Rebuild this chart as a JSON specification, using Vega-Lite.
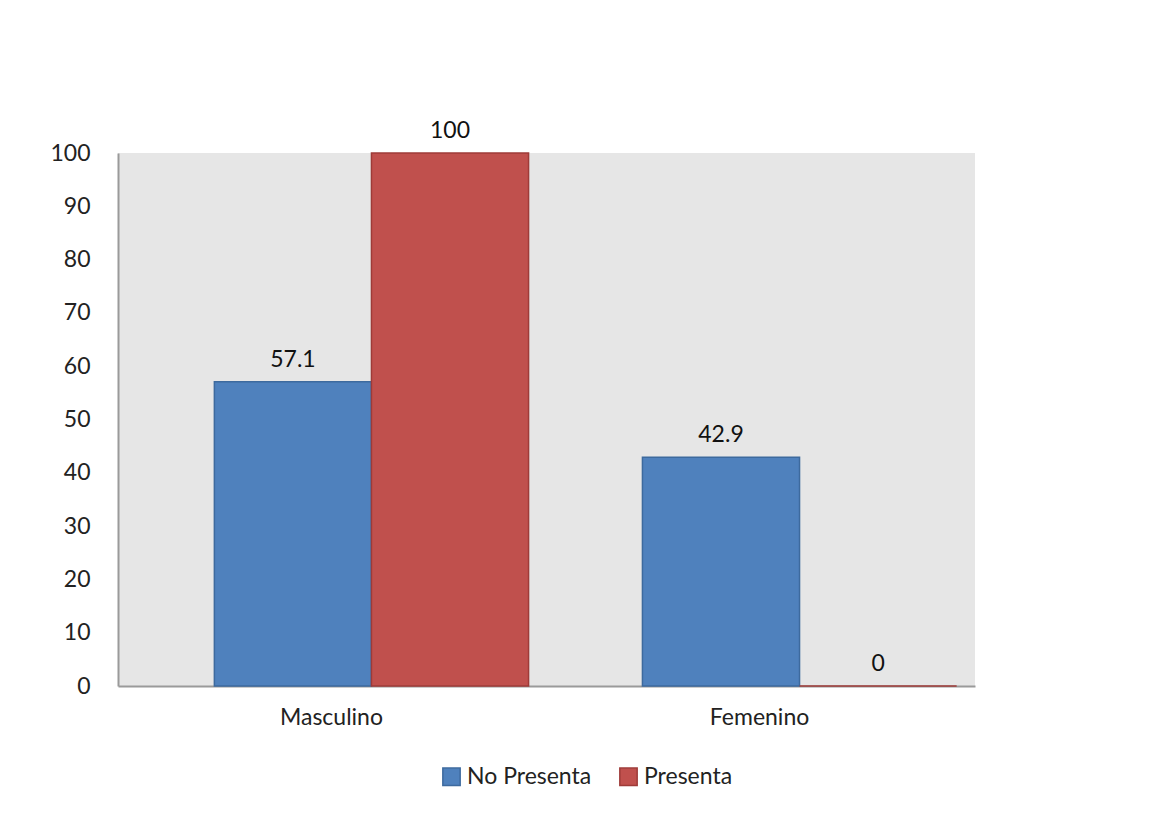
{
  "$schema": "https://vega.github.io/schema/vega-lite/v6.json",
  "width": 857,
  "height": 533,
  "autosize": "none",
  "padding": {"left": 118, "top": 153, "right": 178, "bottom": 128},
  "background": "white",
  "data": {
    "values": [
      {"sexo": "Masculino", "grupo": "No Presenta", "valor": 57.1},
      {"sexo": "Masculino", "grupo": "Presenta", "valor": 100},
      {"sexo": "Femenino", "grupo": "No Presenta", "valor": 42.9},
      {"sexo": "Femenino", "grupo": "Presenta", "valor": 0}
    ]
  },
  "encoding": {
    "x": {
      "field": "sexo",
      "type": "nominal",
      "sort": ["Masculino", "Femenino"],
      "scale": {"paddingInner": 0.266, "paddingOuter": 0.134, "align": 0.84},
      "axis": {
        "title": null,
        "labelAngle": 0,
        "labelFont": "Lato",
        "labelFontSize": 23,
        "labelColor": "#222222",
        "labelPadding": 20,
        "labelOffset": -40,
        "ticks": false,
        "domainColor": "#9a9a9a",
        "domainWidth": 2
      }
    },
    "xOffset": {"field": "grupo", "type": "nominal", "sort": ["No Presenta", "Presenta"]},
    "y": {
      "field": "valor",
      "type": "quantitative",
      "scale": {"domain": [0, 100], "nice": false},
      "axis": {
        "title": null,
        "values": [0, 10, 20, 30, 40, 50, 60, 70, 80, 90, 100],
        "labelFont": "Lato",
        "labelFontSize": 23,
        "labelColor": "#222222",
        "labelPadding": 28,
        "ticks": false,
        "grid": false,
        "domainColor": "#9a9a9a",
        "domainWidth": 2
      }
    }
  },
  "layer": [
    {
      "mark": {"type": "bar", "strokeWidth": 1.5},
      "encoding": {
        "color": {
          "field": "grupo",
          "type": "nominal",
          "sort": ["No Presenta", "Presenta"],
          "scale": {"domain": ["No Presenta", "Presenta"], "range": ["#4f81bd", "#c0504d"]},
          "legend": {
            "title": null,
            "orient": "none",
            "legendX": 322,
            "legendY": 612,
            "direction": "horizontal",
            "symbolType": "square",
            "symbolSize": 300,
            "symbolStrokeWidth": 1.5,
            "labelFont": "Lato",
            "labelFontSize": 23,
            "labelColor": "#222222",
            "columnPadding": 24
          }
        },
        "stroke": {
          "field": "grupo",
          "type": "nominal",
          "scale": {"domain": ["No Presenta", "Presenta"], "range": ["#3d6a9e", "#9e3b38"]},
          "legend": null
        }
      }
    },
    {
      "mark": {"type": "text", "baseline": "bottom", "dy": -10, "font": "Lato", "fontSize": 23, "color": "#111111"},
      "encoding": {"text": {"field": "valor", "type": "quantitative"}}
    }
  ],
  "config": {
    "view": {"fill": "#e6e6e6", "stroke": null}
  }
}
